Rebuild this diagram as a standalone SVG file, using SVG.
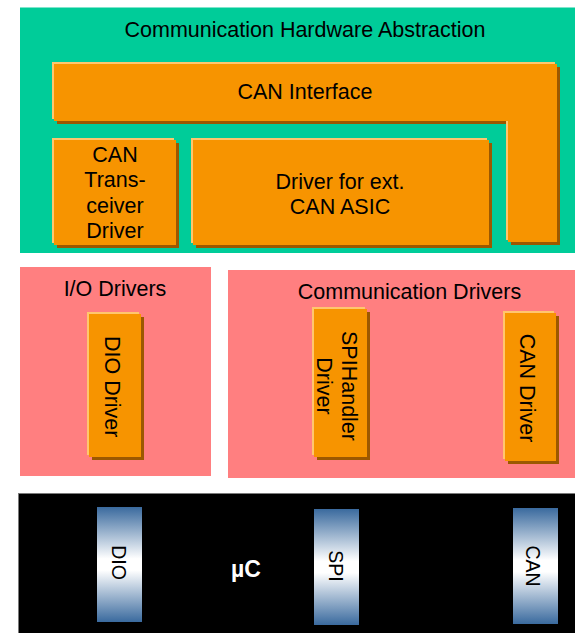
<svg xmlns="http://www.w3.org/2000/svg" width="575" height="633" viewBox="0 0 575 633">
<defs>
<linearGradient id="port" x1="0" y1="0" x2="0" y2="1">
<stop offset="0" stop-color="#3A6A9E"/>
<stop offset="0.45" stop-color="#FFFFFF"/>
<stop offset="0.55" stop-color="#FFFFFF"/>
<stop offset="1" stop-color="#3A6A9E"/>
</linearGradient>
</defs>
<style>
text{font-family:"Liberation Sans",Arial,sans-serif;font-size:21.5px;fill:#000;text-anchor:middle}
.hl{fill:#FFC66E}
.mn{fill:#F79400}
.sh{fill:#9C5800}
.port{fill:url(#port)}
.pt{font-size:19.5px}
.uc{fill:#FFFFFF;font-weight:bold;font-size:23px}
</style>
<g id="comm-hw-abstraction">
<rect x="20" y="7.5" width="560" height="245.5" fill="#00CC99"/>
<text x="305" y="37">Communication Hardware Abstraction</text>
</g>
<g id="can-interface">
<path class="sh" transform="translate(5,5)" d="M52,62 H555 V240 H506 V119 H52 Z"/>
<path class="hl" d="M52,62 H555 V240 H506 V119 H52 Z"/>
<path class="mn" transform="translate(2,2)" d="M52,62 H555 V240 H506 V119 H52 Z"/>
<text x="305" y="99">CAN Interface</text>
</g>
<g id="can-transceiver-driver">
<rect class="sh" x="57" y="143" width="122" height="105"/>
<rect class="hl" x="52" y="138" width="122" height="105"/>
<rect class="mn" x="54" y="140" width="122" height="105"/>
<text x="115" y="161.5">CAN</text>
<text x="115" y="187">Trans-</text>
<text x="115" y="212.5">ceiver</text>
<text x="115" y="238">Driver</text>
</g>
<g id="driver-ext-can-asic">
<rect class="sh" x="196" y="143" width="296" height="105"/>
<rect class="hl" x="191" y="138" width="296" height="105"/>
<rect class="mn" x="193" y="140" width="296" height="105"/>
<text x="340" y="188.5">Driver for ext.</text>
<text x="340" y="214">CAN ASIC</text>
</g>
<g id="io-drivers">
<rect x="20" y="267" width="191" height="209" fill="#FF7F80"/>
<text x="115" y="296">I/O Drivers</text>
</g>
<g id="communication-drivers">
<rect x="228" y="270" width="350" height="208" fill="#FF7F80"/>
<text x="409.5" y="299">Communication Drivers</text>
</g>
<g id="dio-driver">
<rect class="sh" x="92" y="317" width="52" height="143"/>
<rect class="hl" x="87" y="312" width="52" height="143"/>
<rect class="mn" x="89" y="314" width="52" height="143"/>
<text transform="translate(105,386.7) rotate(90)">DIO Driver</text>
</g>
<g id="spihandler-driver">
<rect class="sh" x="317" y="312" width="53" height="148"/>
<rect class="hl" x="312" y="307" width="53" height="148"/>
<rect class="mn" x="314" y="309" width="53" height="148"/>
<text transform="translate(342,386) rotate(90)">SPIHandler</text>
<text transform="translate(317,386) rotate(90)">Driver</text>
</g>
<g id="can-driver">
<rect class="sh" x="508" y="316" width="51" height="148"/>
<rect class="hl" x="503" y="311" width="51" height="148"/>
<rect class="mn" x="505" y="313" width="51" height="148"/>
<text transform="translate(519.5,388) rotate(90)">CAN Driver</text>
</g>
<g id="microcontroller">
<rect x="18.5" y="493.5" width="560" height="140" fill="#000" stroke="#7A7A7A" stroke-width="1"/>
<text class="uc" x="246" y="576.5">µC</text>
</g>
<g id="dio-port">
<rect class="port" x="97" y="507" width="45" height="115"/>
<text class="pt" transform="translate(111.5,562.5) rotate(90)">DIO</text>
</g>
<g id="spi-port">
<rect class="port" x="314" y="509" width="45" height="116"/>
<text class="pt" transform="translate(328.5,566) rotate(90)">SPI</text>
</g>
<g id="can-port">
<rect class="port" x="513" y="508" width="45" height="116"/>
<text class="pt" transform="translate(526,566) rotate(90)">CAN</text>
</g>
<g id="connectors"/>
</svg>
